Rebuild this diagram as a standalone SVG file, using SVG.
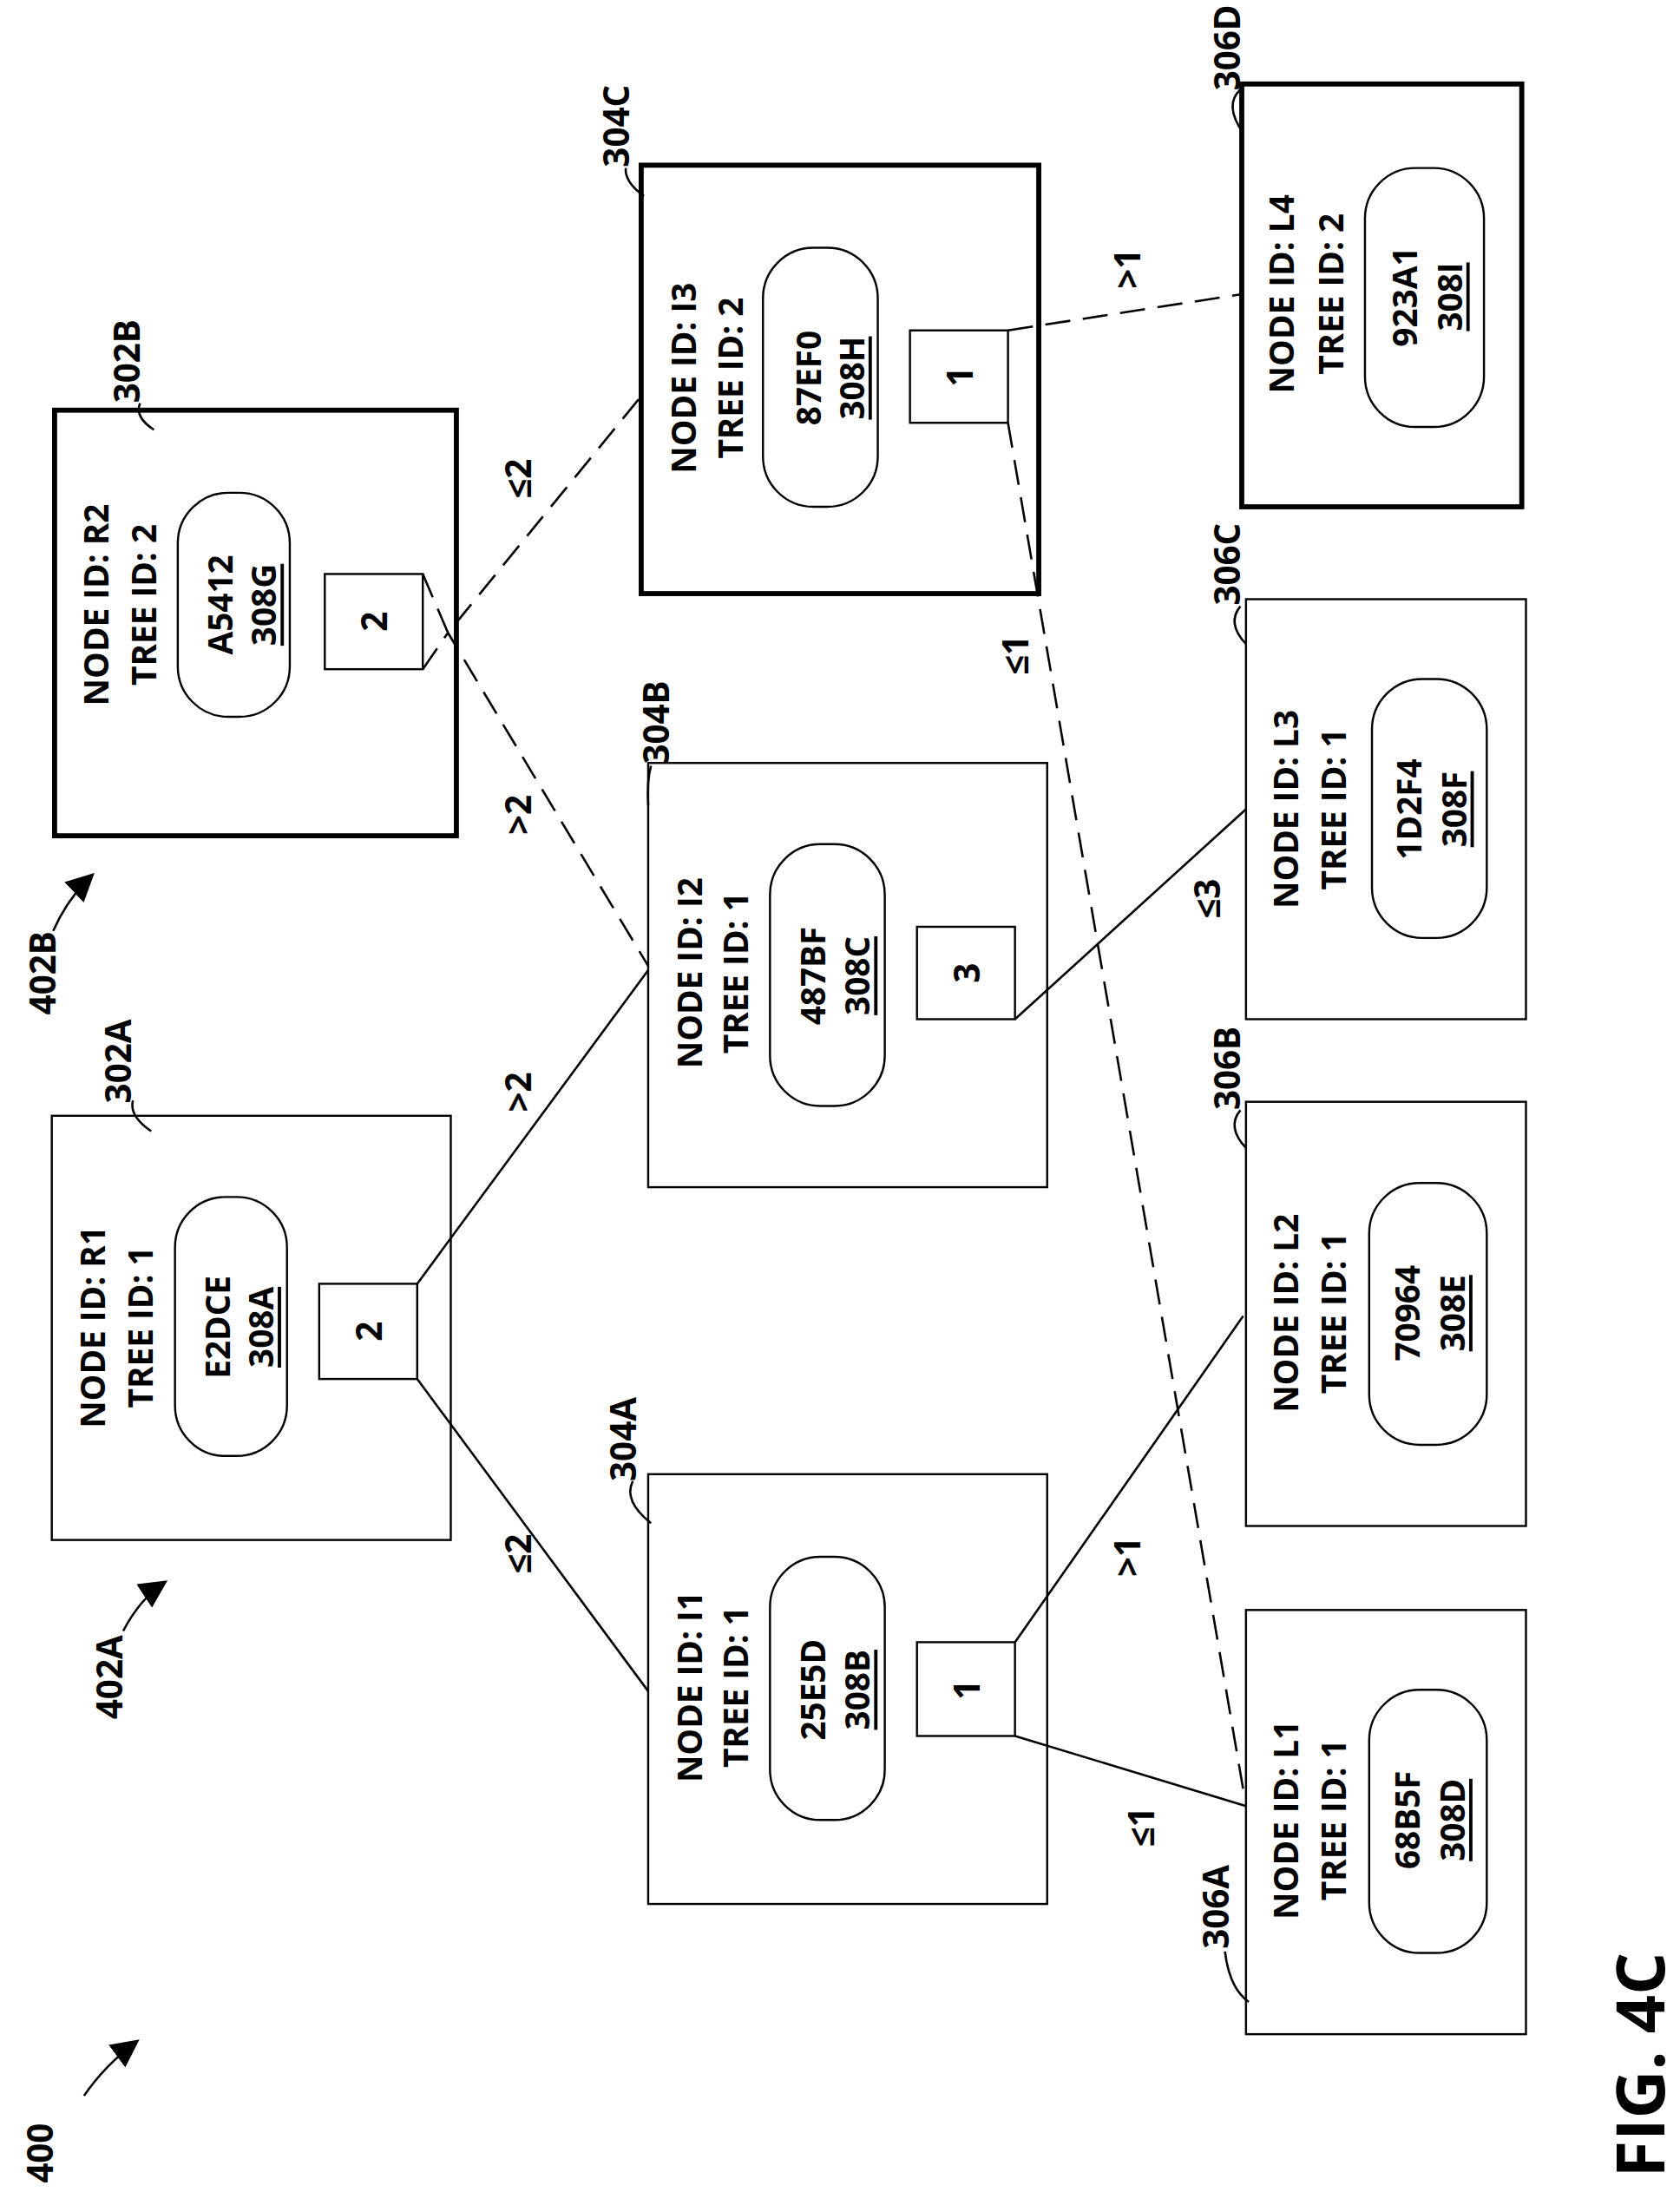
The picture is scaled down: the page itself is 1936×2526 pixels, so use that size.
<svg xmlns="http://www.w3.org/2000/svg" width="1936" height="2526" viewBox="0 0 1936 2526">
<defs>
<style>
text{font-family:"Open Sans","Liberation Sans",sans-serif;font-weight:bold;fill:#000;dominant-baseline:central;text-anchor:middle}
.t{font-size:24px}
.s{font-size:25px}
.big{font-size:48px}
.b{fill:#fff;stroke:#000;stroke-width:1.5}
.k{fill:#fff;stroke:#000;stroke-width:3.6}
.c{fill:none;stroke:#000;stroke-width:1.6}
.d{fill:none;stroke:#000;stroke-width:1.6;stroke-dasharray:18 9}
</style>
<marker id="ah" viewBox="0 0 10 10" refX="9" refY="5" markerWidth="9" markerHeight="9" markerUnits="userSpaceOnUse" orient="auto"><path d="M0,0 L10,5 L0,10 z" fill="#000"/></marker>
<marker id="ah2" viewBox="0 0 10 10" refX="9" refY="5" markerWidth="20" markerHeight="20" markerUnits="userSpaceOnUse" orient="auto"><path d="M0,0 L10,5 L0,10 z" fill="#000"/></marker>
</defs>
<rect width="1936" height="2526" fill="#fff"/>
<g transform="scale(1.6133)">
<g id="n302A">
<rect class="b" x="37" y="797" width="285" height="303"/>
<rect class="b" x="125" y="855" width="80" height="185" rx="36"/>
<rect class="b" x="228" y="917" width="70" height="68"/>
<text class="t" transform="translate(66,948) rotate(-90)">NODE ID: R1</text>
<text class="t" transform="translate(100,948) rotate(-90)">TREE ID: 1</text>
<text class="t" transform="translate(155,948) rotate(-90)">E2DCE</text>
<text class="t" transform="translate(186,948) rotate(-90)" text-decoration="underline">308A</text>
<text class="s" transform="translate(263,951) rotate(-90)">2</text>
<text class="s" transform="translate(84,758) rotate(-90)">302A</text>
<path class="c" d="M95,786 Q92,797 108,808"/>
</g>
<g id="n302B">
<rect class="k" x="39" y="293" width="287" height="304"/>
<rect class="b" x="127" y="352" width="80" height="160" rx="36"/>
<rect class="b" x="232" y="410" width="70" height="68"/>
<text class="t" transform="translate(68,432) rotate(-90)">NODE ID: R2</text>
<text class="t" transform="translate(102,432) rotate(-90)">TREE ID: 2</text>
<text class="t" transform="translate(157,432) rotate(-90)">A5412</text>
<text class="t" transform="translate(188,432) rotate(-90)" text-decoration="underline">308G</text>
<text class="s" transform="translate(267,444) rotate(-90)">2</text>
<text class="s" transform="translate(90,258) rotate(-90)">302B</text>
<path class="c" d="M100,288 Q96,298 110,307"/>
</g>
<g id="n304C">
<rect class="k" x="458" y="118" width="284" height="306"/>
<rect class="b" x="545" y="177" width="82" height="185" rx="36"/>
<rect class="b" x="650" y="236" width="70" height="66"/>
<text class="t" transform="translate(488,270) rotate(-90)">NODE ID: I3</text>
<text class="t" transform="translate(521,270) rotate(-90)">TREE ID: 2</text>
<text class="t" transform="translate(577,270) rotate(-90)">87EF0</text>
<text class="t" transform="translate(608,270) rotate(-90)" text-decoration="underline">308H</text>
<text class="s" transform="translate(685,269) rotate(-90)">1</text>
<text class="s" transform="translate(440,90) rotate(-90)">304C</text>
<path class="c" d="M447,120 Q446,130 460,140"/>
</g>
<g id="n306D">
<rect class="k" x="887" y="60" width="200" height="302"/>
<rect class="b" x="975" y="120" width="85" height="185" rx="36"/>
<text class="t" transform="translate(915,210) rotate(-90)">NODE ID: L4</text>
<text class="t" transform="translate(950,210) rotate(-90)">TREE ID: 2</text>
<text class="t" transform="translate(1003,212) rotate(-90)">923A1</text>
<text class="t" transform="translate(1035,212) rotate(-90)" text-decoration="underline">308I</text>
<text class="s" transform="translate(876,34) rotate(-90)">306D</text>
<path class="c" d="M886,64 Q874,75 888,95"/>
</g>
<g id="n304B">
<rect class="b" x="463" y="545" width="285" height="303"/>
<rect class="b" x="550" y="603" width="82" height="187" rx="36"/>
<rect class="b" x="655" y="662" width="70" height="66"/>
<text class="t" transform="translate(492,695) rotate(-90)">NODE ID: I2</text>
<text class="t" transform="translate(525,695) rotate(-90)">TREE ID: 1</text>
<text class="t" transform="translate(580,697) rotate(-90)">487BF</text>
<text class="t" transform="translate(612,697) rotate(-90)" text-decoration="underline">308C</text>
<text class="s" transform="translate(690,695) rotate(-90)">3</text>
<text class="s" transform="translate(468,516) rotate(-90)">304B</text>
<path class="c" d="M465,547 Q462,558 463,575"/>
</g>
<g id="n306C">
<rect class="b" x="890" y="428" width="200" height="300"/>
<rect class="b" x="980" y="485" width="82" height="185" rx="36"/>
<text class="t" transform="translate(918,578) rotate(-90)">NODE ID: L3</text>
<text class="t" transform="translate(952,578) rotate(-90)">TREE ID: 1</text>
<text class="t" transform="translate(1006,578) rotate(-90)">1D2F4</text>
<text class="t" transform="translate(1038,578) rotate(-90)" text-decoration="underline">308F</text>
<text class="s" transform="translate(876,403) rotate(-90)">306C</text>
<path class="c" d="M886,433 Q876,445 890,460"/>
</g>
<g id="n306B">
<rect class="b" x="890" y="787" width="200" height="303"/>
<rect class="b" x="978" y="845" width="84" height="187" rx="36"/>
<text class="t" transform="translate(918,938) rotate(-90)">NODE ID: L2</text>
<text class="t" transform="translate(952,938) rotate(-90)">TREE ID: 1</text>
<text class="t" transform="translate(1005,938) rotate(-90)">70964</text>
<text class="t" transform="translate(1037,938) rotate(-90)" text-decoration="underline">308E</text>
<text class="s" transform="translate(876,763) rotate(-90)">306B</text>
<path class="c" d="M886,793 Q876,805 890,820"/>
</g>
<g id="n304A">
<rect class="b" x="463" y="1053" width="285" height="307"/>
<rect class="b" x="550" y="1112" width="82" height="188" rx="36"/>
<rect class="b" x="655" y="1173" width="70" height="67"/>
<text class="t" transform="translate(492,1205) rotate(-90)">NODE ID: I1</text>
<text class="t" transform="translate(525,1205) rotate(-90)">TREE ID: 1</text>
<text class="t" transform="translate(580,1207) rotate(-90)">25E5D</text>
<text class="t" transform="translate(612,1207) rotate(-90)" text-decoration="underline">308B</text>
<text class="s" transform="translate(690,1207) rotate(-90)">1</text>
<text class="s" transform="translate(445,1028) rotate(-90)">304A</text>
<path class="c" d="M452,1058 Q445,1072 465,1088"/>
</g>
<g id="n306A">
<rect class="b" x="890" y="1150" width="200" height="303"/>
<rect class="b" x="978" y="1207" width="84" height="188" rx="36"/>
<text class="t" transform="translate(918,1300) rotate(-90)">NODE ID: L1</text>
<text class="t" transform="translate(952,1300) rotate(-90)">TREE ID: 1</text>
<text class="t" transform="translate(1005,1300) rotate(-90)">68B5F</text>
<text class="t" transform="translate(1037,1300) rotate(-90)" text-decoration="underline">308D</text>
<text class="s" transform="translate(868,1362) rotate(-90)">306A</text>
<path class="c" d="M875,1394 Q878,1420 892,1430"/>
</g>
<g id="connectors">
<path class="c" d="M298,917 L463,693"/>
<path class="c" d="M298,985 L463,1208"/>
<path class="d" d="M302,410 L320,452 L458,283"/>
<path class="d" d="M302,478 L320,452 L463,690"/>
<path class="d" d="M720,236 L888,210"/>
<path class="d" d="M720,302 L888,1278"/>
<path class="c" d="M725,728 L890,578"/>
<path class="c" d="M725,1173 L888,940"/>
<path class="c" d="M725,1240 L890,1290"/>
<text class="s" transform="translate(370,780) rotate(-90)">&gt;2</text>
<text class="s" transform="translate(370,1110) rotate(-90)">≤2</text>
<text class="s" transform="translate(370,342) rotate(-90)">≤2</text>
<text class="s" transform="translate(370,582) rotate(-90)">&gt;2</text>
<text class="s" transform="translate(805,192) rotate(-90)">&gt;1</text>
<text class="s" transform="translate(725,468) rotate(-90)">≤1</text>
<text class="s" transform="translate(862,642) rotate(-90)">≤3</text>
<text class="s" transform="translate(805,1112) rotate(-90)">&gt;1</text>
<text class="s" transform="translate(815,1305) rotate(-90)">≤1</text>
</g>
<g id="refs">
<text class="s" transform="translate(78,1198) rotate(-90)">402A</text>
<path class="c" d="M88,1165 Q100,1142 118,1130" marker-end="url(#ah2)"/>
<text class="s" transform="translate(30,695) rotate(-90)">402B</text>
<path class="c" d="M38,665 Q48,642 66,625" marker-end="url(#ah2)"/>
<text class="s" transform="translate(28,1538) rotate(-90)">400</text>
<path class="c" d="M60,1497 Q75,1475 98,1458" marker-end="url(#ah2)"/>
<text class="big" transform="translate(1170,1475) rotate(-90)">FIG. 4C</text>
</g>
</g>
</svg>
